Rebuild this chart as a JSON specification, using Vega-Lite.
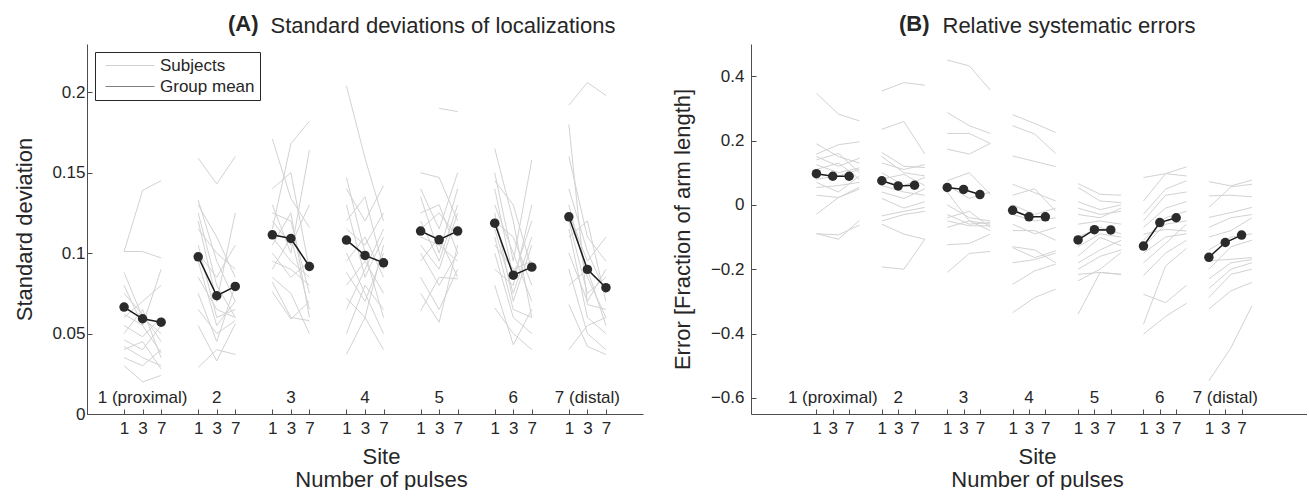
{
  "$schema": "https://vega.github.io/schema/vega-lite/v6.json",
  "padding": {"left": 13, "top": 13, "right": 0, "bottom": 0},
  "spacing": 28,
  "config": {
    "font": "Liberation Sans",
    "view": {"stroke": null},
    "axis": {
      "domainColor": "#4d4d4d", "tickColor": "#4d4d4d", "tickSize": -5, "grid": false,
      "labelFont": "Liberation Sans", "labelFontSize": 17, "labelColor": "#262626",
      "titleFont": "Liberation Sans", "titleFontSize": 22, "titleFontWeight": "normal", "titleColor": "#262626"
    }
  },
  "datasets": {
    "sites": [
      {"site": 1, "label": "1 (proximal)"}, {"site": 2, "label": "2"}, {"site": 3, "label": "3"},
      {"site": 4, "label": "4"}, {"site": 5, "label": "5"}, {"site": 6, "label": "6"}, {"site": 7, "label": "7 (distal)"}
    ],
    "sdMean": [
      {"site":1,"pulses":1,"v":0.0665},{"site":1,"pulses":3,"v":0.0592},{"site":1,"pulses":7,"v":0.0571},
      {"site":2,"pulses":1,"v":0.0977},{"site":2,"pulses":3,"v":0.0735},{"site":2,"pulses":7,"v":0.0793},
      {"site":3,"pulses":1,"v":0.1114},{"site":3,"pulses":3,"v":0.1091},{"site":3,"pulses":7,"v":0.0917},
      {"site":4,"pulses":1,"v":0.1081},{"site":4,"pulses":3,"v":0.0986},{"site":4,"pulses":7,"v":0.0940},
      {"site":5,"pulses":1,"v":0.1137},{"site":5,"pulses":3,"v":0.1083},{"site":5,"pulses":7,"v":0.1137},
      {"site":6,"pulses":1,"v":0.1186},{"site":6,"pulses":3,"v":0.0863},{"site":6,"pulses":7,"v":0.0913},
      {"site":7,"pulses":1,"v":0.1226},{"site":7,"pulses":3,"v":0.0899},{"site":7,"pulses":7,"v":0.0785}
    ],
    "errMean": [
      {"site":1,"pulses":1,"v":0.097},{"site":1,"pulses":3,"v":0.089},{"site":1,"pulses":7,"v":0.089},
      {"site":2,"pulses":1,"v":0.075},{"site":2,"pulses":3,"v":0.059},{"site":2,"pulses":7,"v":0.061},
      {"site":3,"pulses":1,"v":0.054},{"site":3,"pulses":3,"v":0.048},{"site":3,"pulses":7,"v":0.032},
      {"site":4,"pulses":1,"v":-0.017},{"site":4,"pulses":3,"v":-0.037},{"site":4,"pulses":7,"v":-0.037},
      {"site":5,"pulses":1,"v":-0.109},{"site":5,"pulses":3,"v":-0.077},{"site":5,"pulses":7,"v":-0.078},
      {"site":6,"pulses":1,"v":-0.128},{"site":6,"pulses":3,"v":-0.055},{"site":6,"pulses":7,"v":-0.040},
      {"site":7,"pulses":1,"v":-0.163},{"site":7,"pulses":3,"v":-0.117},{"site":7,"pulses":7,"v":-0.094}
    ],
    "sd": [
      {"site":1,"subj":1,"pulses":1,"v":0.101},{"site":1,"subj":1,"pulses":3,"v":0.139},{"site":1,"subj":1,"pulses":7,"v":0.145},
      {"site":1,"subj":2,"pulses":1,"v":0.101},{"site":1,"subj":2,"pulses":3,"v":0.101},{"site":1,"subj":2,"pulses":7,"v":0.097},
      {"site":1,"subj":3,"pulses":1,"v":0.088},{"site":1,"subj":3,"pulses":3,"v":0.060},{"site":1,"subj":3,"pulses":7,"v":0.050},
      {"site":1,"subj":4,"pulses":1,"v":0.080},{"site":1,"subj":4,"pulses":3,"v":0.055},{"site":1,"subj":4,"pulses":7,"v":0.090},
      {"site":1,"subj":5,"pulses":1,"v":0.075},{"site":1,"subj":5,"pulses":3,"v":0.062},{"site":1,"subj":5,"pulses":7,"v":0.045},
      {"site":1,"subj":6,"pulses":1,"v":0.060},{"site":1,"subj":6,"pulses":3,"v":0.070},{"site":1,"subj":6,"pulses":7,"v":0.080},
      {"site":1,"subj":7,"pulses":1,"v":0.055},{"site":1,"subj":7,"pulses":3,"v":0.048},{"site":1,"subj":7,"pulses":7,"v":0.060},
      {"site":1,"subj":8,"pulses":1,"v":0.050},{"site":1,"subj":8,"pulses":3,"v":0.065},{"site":1,"subj":8,"pulses":7,"v":0.035},
      {"site":1,"subj":9,"pulses":1,"v":0.046},{"site":1,"subj":9,"pulses":3,"v":0.040},{"site":1,"subj":9,"pulses":7,"v":0.055},
      {"site":1,"subj":10,"pulses":1,"v":0.042},{"site":1,"subj":10,"pulses":3,"v":0.035},{"site":1,"subj":10,"pulses":7,"v":0.030},
      {"site":1,"subj":11,"pulses":1,"v":0.040},{"site":1,"subj":11,"pulses":3,"v":0.045},{"site":1,"subj":11,"pulses":7,"v":0.028},
      {"site":1,"subj":12,"pulses":1,"v":0.035},{"site":1,"subj":12,"pulses":3,"v":0.030},{"site":1,"subj":12,"pulses":7,"v":0.040},
      {"site":1,"subj":13,"pulses":1,"v":0.030},{"site":1,"subj":13,"pulses":3,"v":0.020},{"site":1,"subj":13,"pulses":7,"v":0.024},
      {"site":1,"subj":14,"pulses":1,"v":0.062},{"site":1,"subj":14,"pulses":3,"v":0.055},{"site":1,"subj":14,"pulses":7,"v":0.038},
      {"site":2,"subj":1,"pulses":1,"v":0.159},{"site":2,"subj":1,"pulses":3,"v":0.143},{"site":2,"subj":1,"pulses":7,"v":0.160},
      {"site":2,"subj":2,"pulses":1,"v":0.133},{"site":2,"subj":2,"pulses":3,"v":0.095},{"site":2,"subj":2,"pulses":7,"v":0.070},
      {"site":2,"subj":3,"pulses":1,"v":0.130},{"site":2,"subj":3,"pulses":3,"v":0.110},{"site":2,"subj":3,"pulses":7,"v":0.085},
      {"site":2,"subj":4,"pulses":1,"v":0.125},{"site":2,"subj":4,"pulses":3,"v":0.080},{"site":2,"subj":4,"pulses":7,"v":0.060},
      {"site":2,"subj":5,"pulses":1,"v":0.120},{"site":2,"subj":5,"pulses":3,"v":0.070},{"site":2,"subj":5,"pulses":7,"v":0.125},
      {"site":2,"subj":6,"pulses":1,"v":0.115},{"site":2,"subj":6,"pulses":3,"v":0.100},{"site":2,"subj":6,"pulses":7,"v":0.090},
      {"site":2,"subj":7,"pulses":1,"v":0.105},{"site":2,"subj":7,"pulses":3,"v":0.060},{"site":2,"subj":7,"pulses":7,"v":0.065},
      {"site":2,"subj":8,"pulses":1,"v":0.100},{"site":2,"subj":8,"pulses":3,"v":0.085},{"site":2,"subj":8,"pulses":7,"v":0.105},
      {"site":2,"subj":9,"pulses":1,"v":0.095},{"site":2,"subj":9,"pulses":3,"v":0.055},{"site":2,"subj":9,"pulses":7,"v":0.070},
      {"site":2,"subj":10,"pulses":1,"v":0.085},{"site":2,"subj":10,"pulses":3,"v":0.065},{"site":2,"subj":10,"pulses":7,"v":0.060},
      {"site":2,"subj":11,"pulses":1,"v":0.075},{"site":2,"subj":11,"pulses":3,"v":0.045},{"site":2,"subj":11,"pulses":7,"v":0.080},
      {"site":2,"subj":12,"pulses":1,"v":0.065},{"site":2,"subj":12,"pulses":3,"v":0.050},{"site":2,"subj":12,"pulses":7,"v":0.058},
      {"site":2,"subj":13,"pulses":1,"v":0.055},{"site":2,"subj":13,"pulses":3,"v":0.033},{"site":2,"subj":13,"pulses":7,"v":0.056},
      {"site":2,"subj":14,"pulses":1,"v":0.029},{"site":2,"subj":14,"pulses":3,"v":0.040},{"site":2,"subj":14,"pulses":7,"v":0.037},
      {"site":3,"subj":1,"pulses":1,"v":0.115},{"site":3,"subj":1,"pulses":3,"v":0.168},{"site":3,"subj":1,"pulses":7,"v":0.182},
      {"site":3,"subj":2,"pulses":1,"v":0.171},{"site":3,"subj":2,"pulses":3,"v":0.134},{"site":3,"subj":2,"pulses":7,"v":0.116},
      {"site":3,"subj":3,"pulses":1,"v":0.140},{"site":3,"subj":3,"pulses":3,"v":0.150},{"site":3,"subj":3,"pulses":7,"v":0.090},
      {"site":3,"subj":4,"pulses":1,"v":0.130},{"site":3,"subj":4,"pulses":3,"v":0.100},{"site":3,"subj":4,"pulses":7,"v":0.164},
      {"site":3,"subj":5,"pulses":1,"v":0.125},{"site":3,"subj":5,"pulses":3,"v":0.120},{"site":3,"subj":5,"pulses":7,"v":0.075},
      {"site":3,"subj":6,"pulses":1,"v":0.120},{"site":3,"subj":6,"pulses":3,"v":0.105},{"site":3,"subj":6,"pulses":7,"v":0.130},
      {"site":3,"subj":7,"pulses":1,"v":0.110},{"site":3,"subj":7,"pulses":3,"v":0.095},{"site":3,"subj":7,"pulses":7,"v":0.085},
      {"site":3,"subj":8,"pulses":1,"v":0.105},{"site":3,"subj":8,"pulses":3,"v":0.125},{"site":3,"subj":8,"pulses":7,"v":0.060},
      {"site":3,"subj":9,"pulses":1,"v":0.100},{"site":3,"subj":9,"pulses":3,"v":0.085},{"site":3,"subj":9,"pulses":7,"v":0.095},
      {"site":3,"subj":10,"pulses":1,"v":0.095},{"site":3,"subj":10,"pulses":3,"v":0.090},{"site":3,"subj":10,"pulses":7,"v":0.080},
      {"site":3,"subj":11,"pulses":1,"v":0.090},{"site":3,"subj":11,"pulses":3,"v":0.110},{"site":3,"subj":11,"pulses":7,"v":0.065},
      {"site":3,"subj":12,"pulses":1,"v":0.085},{"site":3,"subj":12,"pulses":3,"v":0.075},{"site":3,"subj":12,"pulses":7,"v":0.050},
      {"site":3,"subj":13,"pulses":1,"v":0.082},{"site":3,"subj":13,"pulses":3,"v":0.060},{"site":3,"subj":13,"pulses":7,"v":0.058},
      {"site":3,"subj":14,"pulses":1,"v":0.076},{"site":3,"subj":14,"pulses":3,"v":0.059},{"site":3,"subj":14,"pulses":7,"v":0.070},
      {"site":4,"subj":1,"pulses":1,"v":0.204},{"site":4,"subj":1,"pulses":3,"v":0.159},{"site":4,"subj":1,"pulses":7,"v":0.120},
      {"site":4,"subj":2,"pulses":1,"v":0.147},{"site":4,"subj":2,"pulses":3,"v":0.100},{"site":4,"subj":2,"pulses":7,"v":0.060},
      {"site":4,"subj":3,"pulses":1,"v":0.140},{"site":4,"subj":3,"pulses":3,"v":0.120},{"site":4,"subj":3,"pulses":7,"v":0.142},
      {"site":4,"subj":4,"pulses":1,"v":0.130},{"site":4,"subj":4,"pulses":3,"v":0.085},{"site":4,"subj":4,"pulses":7,"v":0.110},
      {"site":4,"subj":5,"pulses":1,"v":0.120},{"site":4,"subj":5,"pulses":3,"v":0.135},{"site":4,"subj":5,"pulses":7,"v":0.090},
      {"site":4,"subj":6,"pulses":1,"v":0.115},{"site":4,"subj":6,"pulses":3,"v":0.105},{"site":4,"subj":6,"pulses":7,"v":0.125},
      {"site":4,"subj":7,"pulses":1,"v":0.100},{"site":4,"subj":7,"pulses":3,"v":0.075},{"site":4,"subj":7,"pulses":7,"v":0.050},
      {"site":4,"subj":8,"pulses":1,"v":0.095},{"site":4,"subj":8,"pulses":3,"v":0.110},{"site":4,"subj":8,"pulses":7,"v":0.085},
      {"site":4,"subj":9,"pulses":1,"v":0.088},{"site":4,"subj":9,"pulses":3,"v":0.070},{"site":4,"subj":9,"pulses":7,"v":0.100},
      {"site":4,"subj":10,"pulses":1,"v":0.080},{"site":4,"subj":10,"pulses":3,"v":0.095},{"site":4,"subj":10,"pulses":7,"v":0.075},
      {"site":4,"subj":11,"pulses":1,"v":0.072},{"site":4,"subj":11,"pulses":3,"v":0.060},{"site":4,"subj":11,"pulses":7,"v":0.040},
      {"site":4,"subj":12,"pulses":1,"v":0.065},{"site":4,"subj":12,"pulses":3,"v":0.090},{"site":4,"subj":12,"pulses":7,"v":0.115},
      {"site":4,"subj":13,"pulses":1,"v":0.050},{"site":4,"subj":13,"pulses":3,"v":0.080},{"site":4,"subj":13,"pulses":7,"v":0.065},
      {"site":4,"subj":14,"pulses":1,"v":0.037},{"site":4,"subj":14,"pulses":3,"v":0.060},{"site":4,"subj":14,"pulses":7,"v":0.105},
      {"site":5,"subj":1,"pulses":3,"v":0.190},{"site":5,"subj":1,"pulses":7,"v":0.188},
      {"site":5,"subj":2,"pulses":1,"v":0.150},{"site":5,"subj":2,"pulses":3,"v":0.147},{"site":5,"subj":2,"pulses":7,"v":0.120},
      {"site":5,"subj":3,"pulses":1,"v":0.140},{"site":5,"subj":3,"pulses":3,"v":0.115},{"site":5,"subj":3,"pulses":7,"v":0.150},
      {"site":5,"subj":4,"pulses":1,"v":0.135},{"site":5,"subj":4,"pulses":3,"v":0.100},{"site":5,"subj":4,"pulses":7,"v":0.140},
      {"site":5,"subj":5,"pulses":1,"v":0.125},{"site":5,"subj":5,"pulses":3,"v":0.130},{"site":5,"subj":5,"pulses":7,"v":0.100},
      {"site":5,"subj":6,"pulses":1,"v":0.120},{"site":5,"subj":6,"pulses":3,"v":0.095},{"site":5,"subj":6,"pulses":7,"v":0.130},
      {"site":5,"subj":7,"pulses":1,"v":0.115},{"site":5,"subj":7,"pulses":3,"v":0.125},{"site":5,"subj":7,"pulses":7,"v":0.110},
      {"site":5,"subj":8,"pulses":1,"v":0.110},{"site":5,"subj":8,"pulses":3,"v":0.105},{"site":5,"subj":8,"pulses":7,"v":0.095},
      {"site":5,"subj":9,"pulses":1,"v":0.105},{"site":5,"subj":9,"pulses":3,"v":0.090},{"site":5,"subj":9,"pulses":7,"v":0.125},
      {"site":5,"subj":10,"pulses":1,"v":0.100},{"site":5,"subj":10,"pulses":3,"v":0.080},{"site":5,"subj":10,"pulses":7,"v":0.100},
      {"site":5,"subj":11,"pulses":1,"v":0.095},{"site":5,"subj":11,"pulses":3,"v":0.110},{"site":5,"subj":11,"pulses":7,"v":0.085},
      {"site":5,"subj":12,"pulses":1,"v":0.085},{"site":5,"subj":12,"pulses":3,"v":0.065},{"site":5,"subj":12,"pulses":7,"v":0.090},
      {"site":5,"subj":13,"pulses":1,"v":0.075},{"site":5,"subj":13,"pulses":3,"v":0.057},{"site":5,"subj":13,"pulses":7,"v":0.105},
      {"site":5,"subj":14,"pulses":1,"v":0.064},{"site":5,"subj":14,"pulses":3,"v":0.085},{"site":5,"subj":14,"pulses":7,"v":0.084},
      {"site":6,"subj":1,"pulses":1,"v":0.165},{"site":6,"subj":1,"pulses":3,"v":0.120},{"site":6,"subj":1,"pulses":7,"v":0.060},
      {"site":6,"subj":2,"pulses":1,"v":0.150},{"site":6,"subj":2,"pulses":3,"v":0.095},{"site":6,"subj":2,"pulses":7,"v":0.158},
      {"site":6,"subj":3,"pulses":1,"v":0.145},{"site":6,"subj":3,"pulses":3,"v":0.130},{"site":6,"subj":3,"pulses":7,"v":0.090},
      {"site":6,"subj":4,"pulses":1,"v":0.140},{"site":6,"subj":4,"pulses":3,"v":0.085},{"site":6,"subj":4,"pulses":7,"v":0.120},
      {"site":6,"subj":5,"pulses":1,"v":0.130},{"site":6,"subj":5,"pulses":3,"v":0.100},{"site":6,"subj":5,"pulses":7,"v":0.070},
      {"site":6,"subj":6,"pulses":1,"v":0.125},{"site":6,"subj":6,"pulses":3,"v":0.070},{"site":6,"subj":6,"pulses":7,"v":0.105},
      {"site":6,"subj":7,"pulses":1,"v":0.120},{"site":6,"subj":7,"pulses":3,"v":0.110},{"site":6,"subj":7,"pulses":7,"v":0.080},
      {"site":6,"subj":8,"pulses":1,"v":0.115},{"site":6,"subj":8,"pulses":3,"v":0.075},{"site":6,"subj":8,"pulses":7,"v":0.110},
      {"site":6,"subj":9,"pulses":1,"v":0.110},{"site":6,"subj":9,"pulses":3,"v":0.065},{"site":6,"subj":9,"pulses":7,"v":0.060},
      {"site":6,"subj":10,"pulses":1,"v":0.105},{"site":6,"subj":10,"pulses":3,"v":0.090},{"site":6,"subj":10,"pulses":7,"v":0.095},
      {"site":6,"subj":11,"pulses":1,"v":0.100},{"site":6,"subj":11,"pulses":3,"v":0.060},{"site":6,"subj":11,"pulses":7,"v":0.050},
      {"site":6,"subj":12,"pulses":1,"v":0.090},{"site":6,"subj":12,"pulses":3,"v":0.080},{"site":6,"subj":12,"pulses":7,"v":0.130},
      {"site":6,"subj":13,"pulses":1,"v":0.080},{"site":6,"subj":13,"pulses":3,"v":0.043},{"site":6,"subj":13,"pulses":7,"v":0.065},
      {"site":6,"subj":14,"pulses":1,"v":0.066},{"site":6,"subj":14,"pulses":3,"v":0.050},{"site":6,"subj":14,"pulses":7,"v":0.040},
      {"site":7,"subj":1,"pulses":1,"v":0.192},{"site":7,"subj":1,"pulses":3,"v":0.206},{"site":7,"subj":1,"pulses":7,"v":0.198},
      {"site":7,"subj":2,"pulses":1,"v":0.180},{"site":7,"subj":2,"pulses":3,"v":0.068},{"site":7,"subj":2,"pulses":7,"v":0.065},
      {"site":7,"subj":3,"pulses":1,"v":0.160},{"site":7,"subj":3,"pulses":3,"v":0.110},{"site":7,"subj":3,"pulses":7,"v":0.095},
      {"site":7,"subj":4,"pulses":1,"v":0.140},{"site":7,"subj":4,"pulses":3,"v":0.101},{"site":7,"subj":4,"pulses":7,"v":0.075},
      {"site":7,"subj":5,"pulses":1,"v":0.130},{"site":7,"subj":5,"pulses":3,"v":0.085},{"site":7,"subj":5,"pulses":7,"v":0.060},
      {"site":7,"subj":6,"pulses":1,"v":0.125},{"site":7,"subj":6,"pulses":3,"v":0.095},{"site":7,"subj":6,"pulses":7,"v":0.110},
      {"site":7,"subj":7,"pulses":1,"v":0.120},{"site":7,"subj":7,"pulses":3,"v":0.075},{"site":7,"subj":7,"pulses":7,"v":0.085},
      {"site":7,"subj":8,"pulses":1,"v":0.115},{"site":7,"subj":8,"pulses":3,"v":0.060},{"site":7,"subj":8,"pulses":7,"v":0.050},
      {"site":7,"subj":9,"pulses":1,"v":0.110},{"site":7,"subj":9,"pulses":3,"v":0.120},{"site":7,"subj":9,"pulses":7,"v":0.070},
      {"site":7,"subj":10,"pulses":1,"v":0.100},{"site":7,"subj":10,"pulses":3,"v":0.070},{"site":7,"subj":10,"pulses":7,"v":0.090},
      {"site":7,"subj":11,"pulses":1,"v":0.090},{"site":7,"subj":11,"pulses":3,"v":0.050},{"site":7,"subj":11,"pulses":7,"v":0.040},
      {"site":7,"subj":12,"pulses":1,"v":0.080},{"site":7,"subj":12,"pulses":3,"v":0.090},{"site":7,"subj":12,"pulses":7,"v":0.055},
      {"site":7,"subj":13,"pulses":1,"v":0.068},{"site":7,"subj":13,"pulses":3,"v":0.042},{"site":7,"subj":13,"pulses":7,"v":0.037},
      {"site":7,"subj":14,"pulses":1,"v":0.040},{"site":7,"subj":14,"pulses":3,"v":0.055},{"site":7,"subj":14,"pulses":7,"v":0.060}
    ],
    "err": [
      {"site":1,"subj":1,"pulses":1,"v":0.347},{"site":1,"subj":1,"pulses":3,"v":0.282},{"site":1,"subj":1,"pulses":7,"v":0.261},
      {"site":1,"subj":2,"pulses":1,"v":0.158},{"site":1,"subj":2,"pulses":3,"v":0.187},{"site":1,"subj":2,"pulses":7,"v":0.196},
      {"site":1,"subj":3,"pulses":1,"v":0.190},{"site":1,"subj":3,"pulses":3,"v":0.150},{"site":1,"subj":3,"pulses":7,"v":0.130},
      {"site":1,"subj":4,"pulses":1,"v":0.150},{"site":1,"subj":4,"pulses":3,"v":0.120},{"site":1,"subj":4,"pulses":7,"v":0.145},
      {"site":1,"subj":5,"pulses":1,"v":0.140},{"site":1,"subj":5,"pulses":3,"v":0.160},{"site":1,"subj":5,"pulses":7,"v":0.100},
      {"site":1,"subj":6,"pulses":1,"v":0.125},{"site":1,"subj":6,"pulses":3,"v":0.100},{"site":1,"subj":6,"pulses":7,"v":0.115},
      {"site":1,"subj":7,"pulses":1,"v":0.110},{"site":1,"subj":7,"pulses":3,"v":0.130},{"site":1,"subj":7,"pulses":7,"v":0.080},
      {"site":1,"subj":8,"pulses":1,"v":0.080},{"site":1,"subj":8,"pulses":3,"v":0.090},{"site":1,"subj":8,"pulses":7,"v":0.110},
      {"site":1,"subj":9,"pulses":1,"v":0.070},{"site":1,"subj":9,"pulses":3,"v":0.040},{"site":1,"subj":9,"pulses":7,"v":0.090},
      {"site":1,"subj":10,"pulses":1,"v":0.054},{"site":1,"subj":10,"pulses":3,"v":0.060},{"site":1,"subj":10,"pulses":7,"v":0.070},
      {"site":1,"subj":11,"pulses":1,"v":0.030},{"site":1,"subj":11,"pulses":3,"v":0.023},{"site":1,"subj":11,"pulses":7,"v":0.055},
      {"site":1,"subj":12,"pulses":1,"v":-0.029},{"site":1,"subj":12,"pulses":3,"v":0.023},{"site":1,"subj":12,"pulses":7,"v":0.049},
      {"site":1,"subj":13,"pulses":1,"v":-0.089},{"site":1,"subj":13,"pulses":3,"v":-0.107},{"site":1,"subj":13,"pulses":7,"v":-0.048},
      {"site":1,"subj":14,"pulses":1,"v":-0.090},{"site":1,"subj":14,"pulses":3,"v":-0.093},{"site":1,"subj":14,"pulses":7,"v":-0.063},
      {"site":2,"subj":1,"pulses":1,"v":0.354},{"site":2,"subj":1,"pulses":3,"v":0.380},{"site":2,"subj":1,"pulses":7,"v":0.372},
      {"site":2,"subj":2,"pulses":1,"v":0.235},{"site":2,"subj":2,"pulses":3,"v":0.259},{"site":2,"subj":2,"pulses":7,"v":0.158},
      {"site":2,"subj":3,"pulses":1,"v":0.163},{"site":2,"subj":3,"pulses":3,"v":0.120},{"site":2,"subj":3,"pulses":7,"v":0.116},
      {"site":2,"subj":4,"pulses":1,"v":0.150},{"site":2,"subj":4,"pulses":3,"v":0.100},{"site":2,"subj":4,"pulses":7,"v":0.090},
      {"site":2,"subj":5,"pulses":1,"v":0.130},{"site":2,"subj":5,"pulses":3,"v":0.110},{"site":2,"subj":5,"pulses":7,"v":0.125},
      {"site":2,"subj":6,"pulses":1,"v":0.100},{"site":2,"subj":6,"pulses":3,"v":0.060},{"site":2,"subj":6,"pulses":7,"v":0.085},
      {"site":2,"subj":7,"pulses":1,"v":0.080},{"site":2,"subj":7,"pulses":3,"v":0.095},{"site":2,"subj":7,"pulses":7,"v":0.060},
      {"site":2,"subj":8,"pulses":1,"v":0.060},{"site":2,"subj":8,"pulses":3,"v":0.040},{"site":2,"subj":8,"pulses":7,"v":0.030},
      {"site":2,"subj":9,"pulses":1,"v":0.040},{"site":2,"subj":9,"pulses":3,"v":0.020},{"site":2,"subj":9,"pulses":7,"v":0.050},
      {"site":2,"subj":10,"pulses":1,"v":0.020},{"site":2,"subj":10,"pulses":3,"v":-0.010},{"site":2,"subj":10,"pulses":7,"v":0.010},
      {"site":2,"subj":11,"pulses":1,"v":-0.034},{"site":2,"subj":11,"pulses":3,"v":-0.020},{"site":2,"subj":11,"pulses":7,"v":-0.008},
      {"site":2,"subj":12,"pulses":1,"v":-0.050},{"site":2,"subj":12,"pulses":3,"v":-0.030},{"site":2,"subj":12,"pulses":7,"v":-0.020},
      {"site":2,"subj":13,"pulses":1,"v":-0.060},{"site":2,"subj":13,"pulses":3,"v":-0.091},{"site":2,"subj":13,"pulses":7,"v":-0.107},
      {"site":2,"subj":14,"pulses":1,"v":-0.193},{"site":2,"subj":14,"pulses":3,"v":-0.200},{"site":2,"subj":14,"pulses":7,"v":-0.107},
      {"site":3,"subj":1,"pulses":1,"v":0.450},{"site":3,"subj":1,"pulses":3,"v":0.432},{"site":3,"subj":1,"pulses":7,"v":0.357},
      {"site":3,"subj":2,"pulses":1,"v":0.287},{"site":3,"subj":2,"pulses":3,"v":0.246},{"site":3,"subj":2,"pulses":7,"v":0.222},
      {"site":3,"subj":3,"pulses":1,"v":0.222},{"site":3,"subj":3,"pulses":3,"v":0.222},{"site":3,"subj":3,"pulses":7,"v":0.191},
      {"site":3,"subj":4,"pulses":1,"v":0.173},{"site":3,"subj":4,"pulses":3,"v":0.158},{"site":3,"subj":4,"pulses":7,"v":0.191},
      {"site":3,"subj":5,"pulses":1,"v":0.075},{"site":3,"subj":5,"pulses":3,"v":0.100},{"site":3,"subj":5,"pulses":7,"v":0.033},
      {"site":3,"subj":6,"pulses":1,"v":0.060},{"site":3,"subj":6,"pulses":3,"v":0.020},{"site":3,"subj":6,"pulses":7,"v":0.040},
      {"site":3,"subj":7,"pulses":1,"v":0.040},{"site":3,"subj":7,"pulses":3,"v":-0.050},{"site":3,"subj":7,"pulses":7,"v":-0.060},
      {"site":3,"subj":8,"pulses":1,"v":0.000},{"site":3,"subj":8,"pulses":3,"v":-0.040},{"site":3,"subj":8,"pulses":7,"v":-0.050},
      {"site":3,"subj":9,"pulses":1,"v":-0.030},{"site":3,"subj":9,"pulses":3,"v":-0.060},{"site":3,"subj":9,"pulses":7,"v":-0.055},
      {"site":3,"subj":10,"pulses":1,"v":-0.040},{"site":3,"subj":10,"pulses":3,"v":-0.020},{"site":3,"subj":10,"pulses":7,"v":-0.070},
      {"site":3,"subj":11,"pulses":1,"v":-0.050},{"site":3,"subj":11,"pulses":3,"v":-0.065},{"site":3,"subj":11,"pulses":7,"v":-0.065},
      {"site":3,"subj":12,"pulses":1,"v":-0.070},{"site":3,"subj":12,"pulses":3,"v":-0.050},{"site":3,"subj":12,"pulses":7,"v":-0.080},
      {"site":3,"subj":13,"pulses":1,"v":-0.124},{"site":3,"subj":13,"pulses":3,"v":-0.120},{"site":3,"subj":13,"pulses":7,"v":-0.091},
      {"site":3,"subj":14,"pulses":1,"v":-0.210},{"site":3,"subj":14,"pulses":3,"v":-0.151},{"site":3,"subj":14,"pulses":7,"v":-0.145},
      {"site":4,"subj":1,"pulses":1,"v":0.280},{"site":4,"subj":1,"pulses":3,"v":0.253},{"site":4,"subj":1,"pulses":7,"v":0.225},
      {"site":4,"subj":2,"pulses":1,"v":0.246},{"site":4,"subj":2,"pulses":3,"v":0.220},{"site":4,"subj":2,"pulses":7,"v":0.160},
      {"site":4,"subj":3,"pulses":1,"v":0.152},{"site":4,"subj":3,"pulses":3,"v":0.135},{"site":4,"subj":3,"pulses":7,"v":0.119},
      {"site":4,"subj":4,"pulses":1,"v":0.064},{"site":4,"subj":4,"pulses":3,"v":0.038},{"site":4,"subj":4,"pulses":7,"v":0.012},
      {"site":4,"subj":5,"pulses":1,"v":0.030},{"site":4,"subj":5,"pulses":3,"v":0.050},{"site":4,"subj":5,"pulses":7,"v":-0.020},
      {"site":4,"subj":6,"pulses":1,"v":0.000},{"site":4,"subj":6,"pulses":3,"v":-0.030},{"site":4,"subj":6,"pulses":7,"v":-0.010},
      {"site":4,"subj":7,"pulses":1,"v":-0.030},{"site":4,"subj":7,"pulses":3,"v":-0.050},{"site":4,"subj":7,"pulses":7,"v":-0.040},
      {"site":4,"subj":8,"pulses":1,"v":-0.060},{"site":4,"subj":8,"pulses":3,"v":-0.090},{"site":4,"subj":8,"pulses":7,"v":-0.070},
      {"site":4,"subj":9,"pulses":1,"v":-0.080},{"site":4,"subj":9,"pulses":3,"v":-0.080},{"site":4,"subj":9,"pulses":7,"v":-0.110},
      {"site":4,"subj":10,"pulses":1,"v":-0.133},{"site":4,"subj":10,"pulses":3,"v":-0.164},{"site":4,"subj":10,"pulses":7,"v":-0.143},
      {"site":4,"subj":11,"pulses":1,"v":-0.130},{"site":4,"subj":11,"pulses":3,"v":-0.140},{"site":4,"subj":11,"pulses":7,"v":-0.180},
      {"site":4,"subj":12,"pulses":1,"v":-0.180},{"site":4,"subj":12,"pulses":3,"v":-0.170},{"site":4,"subj":12,"pulses":7,"v":-0.150},
      {"site":4,"subj":13,"pulses":1,"v":-0.247},{"site":4,"subj":13,"pulses":3,"v":-0.205},{"site":4,"subj":13,"pulses":7,"v":-0.184},
      {"site":4,"subj":14,"pulses":1,"v":-0.335},{"site":4,"subj":14,"pulses":3,"v":-0.288},{"site":4,"subj":14,"pulses":7,"v":-0.262},
      {"site":5,"subj":1,"pulses":1,"v":0.066},{"site":5,"subj":1,"pulses":3,"v":0.033},{"site":5,"subj":1,"pulses":7,"v":0.030},
      {"site":5,"subj":2,"pulses":1,"v":0.054},{"site":5,"subj":2,"pulses":3,"v":0.012},{"site":5,"subj":2,"pulses":7,"v":0.007},
      {"site":5,"subj":3,"pulses":1,"v":0.010},{"site":5,"subj":3,"pulses":3,"v":-0.015},{"site":5,"subj":3,"pulses":7,"v":0.000},
      {"site":5,"subj":4,"pulses":1,"v":-0.010},{"site":5,"subj":4,"pulses":3,"v":-0.030},{"site":5,"subj":4,"pulses":7,"v":-0.020},
      {"site":5,"subj":5,"pulses":1,"v":-0.030},{"site":5,"subj":5,"pulses":3,"v":-0.040},{"site":5,"subj":5,"pulses":7,"v":-0.010},
      {"site":5,"subj":6,"pulses":1,"v":-0.060},{"site":5,"subj":6,"pulses":3,"v":-0.050},{"site":5,"subj":6,"pulses":7,"v":-0.060},
      {"site":5,"subj":7,"pulses":1,"v":-0.100},{"site":5,"subj":7,"pulses":3,"v":-0.070},{"site":5,"subj":7,"pulses":7,"v":-0.090},
      {"site":5,"subj":8,"pulses":1,"v":-0.130},{"site":5,"subj":8,"pulses":3,"v":-0.090},{"site":5,"subj":8,"pulses":7,"v":-0.100},
      {"site":5,"subj":9,"pulses":1,"v":-0.159},{"site":5,"subj":9,"pulses":3,"v":-0.101},{"site":5,"subj":9,"pulses":7,"v":-0.127},
      {"site":5,"subj":10,"pulses":1,"v":-0.180},{"site":5,"subj":10,"pulses":3,"v":-0.140},{"site":5,"subj":10,"pulses":7,"v":-0.110},
      {"site":5,"subj":11,"pulses":1,"v":-0.200},{"site":5,"subj":11,"pulses":3,"v":-0.160},{"site":5,"subj":11,"pulses":7,"v":-0.140},
      {"site":5,"subj":12,"pulses":1,"v":-0.216},{"site":5,"subj":12,"pulses":3,"v":-0.210},{"site":5,"subj":12,"pulses":7,"v":-0.216},
      {"site":5,"subj":13,"pulses":1,"v":-0.236},{"site":5,"subj":13,"pulses":3,"v":-0.200},{"site":5,"subj":13,"pulses":7,"v":-0.148},
      {"site":5,"subj":14,"pulses":1,"v":-0.340},{"site":5,"subj":14,"pulses":3,"v":-0.210},{"site":5,"subj":14,"pulses":7,"v":-0.216},
      {"site":6,"subj":1,"pulses":1,"v":0.085},{"site":6,"subj":1,"pulses":3,"v":0.097},{"site":6,"subj":1,"pulses":7,"v":0.118},
      {"site":6,"subj":2,"pulses":1,"v":0.012},{"site":6,"subj":2,"pulses":3,"v":0.097},{"site":6,"subj":2,"pulses":7,"v":0.090},
      {"site":6,"subj":3,"pulses":1,"v":-0.029},{"site":6,"subj":3,"pulses":3,"v":0.049},{"site":6,"subj":3,"pulses":7,"v":0.075},
      {"site":6,"subj":4,"pulses":1,"v":-0.050},{"site":6,"subj":4,"pulses":3,"v":0.030},{"site":6,"subj":4,"pulses":7,"v":0.040},
      {"site":6,"subj":5,"pulses":1,"v":-0.070},{"site":6,"subj":5,"pulses":3,"v":-0.010},{"site":6,"subj":5,"pulses":7,"v":0.010},
      {"site":6,"subj":6,"pulses":1,"v":-0.091},{"site":6,"subj":6,"pulses":3,"v":-0.076},{"site":6,"subj":6,"pulses":7,"v":-0.081},
      {"site":6,"subj":7,"pulses":1,"v":-0.110},{"site":6,"subj":7,"pulses":3,"v":-0.040},{"site":6,"subj":7,"pulses":7,"v":-0.020},
      {"site":6,"subj":8,"pulses":1,"v":-0.130},{"site":6,"subj":8,"pulses":3,"v":-0.060},{"site":6,"subj":8,"pulses":7,"v":-0.050},
      {"site":6,"subj":9,"pulses":1,"v":-0.150},{"site":6,"subj":9,"pulses":3,"v":-0.100},{"site":6,"subj":9,"pulses":7,"v":-0.090},
      {"site":6,"subj":10,"pulses":1,"v":-0.180},{"site":6,"subj":10,"pulses":3,"v":-0.120},{"site":6,"subj":10,"pulses":7,"v":-0.060},
      {"site":6,"subj":11,"pulses":1,"v":-0.220},{"site":6,"subj":11,"pulses":3,"v":-0.150},{"site":6,"subj":11,"pulses":7,"v":-0.110},
      {"site":6,"subj":12,"pulses":1,"v":-0.278},{"site":6,"subj":12,"pulses":3,"v":-0.304},{"site":6,"subj":12,"pulses":7,"v":-0.250},
      {"site":6,"subj":13,"pulses":1,"v":-0.371},{"site":6,"subj":13,"pulses":3,"v":-0.190},{"site":6,"subj":13,"pulses":7,"v":-0.135},
      {"site":6,"subj":14,"pulses":1,"v":-0.402},{"site":6,"subj":14,"pulses":3,"v":-0.347},{"site":6,"subj":14,"pulses":7,"v":-0.306},
      {"site":7,"subj":1,"pulses":1,"v":0.072},{"site":7,"subj":1,"pulses":3,"v":0.059},{"site":7,"subj":1,"pulses":7,"v":0.077},
      {"site":7,"subj":2,"pulses":1,"v":0.028},{"site":7,"subj":2,"pulses":3,"v":0.030},{"site":7,"subj":2,"pulses":7,"v":0.025},
      {"site":7,"subj":3,"pulses":1,"v":-0.008},{"site":7,"subj":3,"pulses":3,"v":0.056},{"site":7,"subj":3,"pulses":7,"v":0.064},
      {"site":7,"subj":4,"pulses":1,"v":-0.039},{"site":7,"subj":4,"pulses":3,"v":-0.024},{"site":7,"subj":4,"pulses":7,"v":-0.008},
      {"site":7,"subj":5,"pulses":1,"v":-0.070},{"site":7,"subj":5,"pulses":3,"v":-0.040},{"site":7,"subj":5,"pulses":7,"v":-0.030},
      {"site":7,"subj":6,"pulses":1,"v":-0.100},{"site":7,"subj":6,"pulses":3,"v":-0.080},{"site":7,"subj":6,"pulses":7,"v":-0.040},
      {"site":7,"subj":7,"pulses":1,"v":-0.140},{"site":7,"subj":7,"pulses":3,"v":-0.100},{"site":7,"subj":7,"pulses":7,"v":-0.090},
      {"site":7,"subj":8,"pulses":1,"v":-0.174},{"site":7,"subj":8,"pulses":3,"v":-0.169},{"site":7,"subj":8,"pulses":7,"v":-0.164},
      {"site":7,"subj":9,"pulses":1,"v":-0.200},{"site":7,"subj":9,"pulses":3,"v":-0.130},{"site":7,"subj":9,"pulses":7,"v":-0.110},
      {"site":7,"subj":10,"pulses":1,"v":-0.230},{"site":7,"subj":10,"pulses":3,"v":-0.180},{"site":7,"subj":10,"pulses":7,"v":-0.170},
      {"site":7,"subj":11,"pulses":1,"v":-0.260},{"site":7,"subj":11,"pulses":3,"v":-0.200},{"site":7,"subj":11,"pulses":7,"v":-0.180},
      {"site":7,"subj":12,"pulses":1,"v":-0.288},{"site":7,"subj":12,"pulses":3,"v":-0.216},{"site":7,"subj":12,"pulses":7,"v":-0.200},
      {"site":7,"subj":13,"pulses":1,"v":-0.324},{"site":7,"subj":13,"pulses":3,"v":-0.267},{"site":7,"subj":13,"pulses":7,"v":-0.241},
      {"site":7,"subj":14,"pulses":1,"v":-0.547},{"site":7,"subj":14,"pulses":3,"v":-0.444},{"site":7,"subj":14,"pulses":7,"v":-0.314}
    ]
  },
  "hconcat": [
    {
      "width": 556, "height": 370,
      "resolve": {"axis": {"x": "independent"}},
      "title": {
        "text": "(A)", "anchor": "start", "frame": "group", "dx": 141, "dy": 22, "offset": 0,
        "font": "Liberation Sans", "fontSize": 22, "fontWeight": "bold", "color": "#262626"
      },
      "layer": [
        {
          "data": {"name": "sd"},
          "transform": [{"calculate": "4*(datum.site-1)+(datum.pulses==1?0:datum.pulses==3?1:2)", "as": "x"}],
          "mark": {"type": "line", "strokeWidth": 1},
          "encoding": {
            "x": {"field": "x", "type": "quantitative", "scale": {"domain": [-2, 28], "nice": false, "zero": false},
              "axis": {"orient": "bottom", "values": [0,1,2,4,5,6,8,9,10,12,13,14,16,17,18,20,21,22,24,25,26], "tickCount": 40,
                "labelExpr": "datum.value % 4 == 0 ? '1' : datum.value % 4 == 1 ? '3' : '7'",
                "labelOverlap": false, "labelFlush": false, "labelPadding": 11,
                "title": ["Site", "Number of pulses"], "titleLineHeight": 23, "titlePadding": 10,
                "titleX": 294, "titleAlign": "center"}},
            "y": {"field": "v", "type": "quantitative", "scale": {"domain": [0, 0.23], "nice": false},
              "axis": {"values": [0, 0.05, 0.1, 0.15, 0.2], "format": ".2~f", "labelPadding": 7,
                "title": "Standard deviation", "titlePadding": 15}},
            "detail": [{"field": "site"}, {"field": "subj"}],
            "color": {"datum": "Subjects", "type": "nominal",
              "scale": {"domain": ["Subjects", "Group mean"], "range": ["#d2d2d2", "#7f7f7f"]},
              "legend": {"orient": "top-left", "offset": 8, "title": null, "strokeColor": "#262626", "fillColor": "white",
                "padding": 5, "labelFont": "Liberation Sans", "labelFontSize": 17, "labelColor": "#262626",
                "symbolType": "M-0.6,0H9.2", "symbolSize": 100, "symbolStrokeWidth": 1, "labelOffset": 43, "rowPadding": 3}}
          }
        },
        {
          "data": {"name": "sdMean"},
          "transform": [{"calculate": "4*(datum.site-1)+(datum.pulses==1?0:datum.pulses==3?1:2)", "as": "x"}],
          "mark": {"type": "line", "color": "#1a1a1a", "strokeWidth": 1.5},
          "encoding": {"x": {"field": "x", "type": "quantitative", "axis": null}, "y": {"field": "v", "type": "quantitative"}, "detail": {"field": "site"}}
        },
        {
          "data": {"name": "sdMean"},
          "transform": [{"calculate": "4*(datum.site-1)+(datum.pulses==1?0:datum.pulses==3?1:2)", "as": "x"}],
          "mark": {"type": "circle", "size": 90, "color": "#2b2b2b", "opacity": 1},
          "encoding": {"x": {"field": "x", "type": "quantitative", "axis": null}, "y": {"field": "v", "type": "quantitative"}}
        },
        {
          "data": {"name": "sites"},
          "transform": [{"calculate": "4*(datum.site-1)+1", "as": "x"}],
          "mark": {"type": "text", "fontSize": 17, "font": "Liberation Sans", "color": "#262626", "baseline": "middle"},
          "encoding": {
            "x": {"field": "x", "type": "quantitative",
              "axis": {"orient": "top", "domain": false, "ticks": false, "labels": false, "grid": false,
                "title": "Standard deviations of localizations", "titleX": 183, "titleY": -12, "titleAlign": "left",
                "titleBaseline": "alphabetic", "titleFontSize": 22, "titleFontWeight": "normal", "titleColor": "#262626"}},
            "y": {"datum": 0.0099}, "text": {"field": "label"}}
        }
      ]
    },
    {
      "width": 556, "height": 370,
      "resolve": {"axis": {"x": "independent"}},
      "title": {
        "text": "(B)", "anchor": "start", "frame": "group", "dx": 148, "dy": 22, "offset": 0,
        "font": "Liberation Sans", "fontSize": 22, "fontWeight": "bold", "color": "#262626"
      },
      "layer": [
        {
          "mark": {"type": "rule", "color": "#8c8c8c", "strokeDash": [1.2, 5.1], "strokeWidth": 1.2},
          "encoding": {"y": {"datum": 0}}
        },
        {
          "data": {"name": "err"},
          "transform": [{"calculate": "4*(datum.site-1)+(datum.pulses==1?0:datum.pulses==3?1.35:2.63)", "as": "x"}],
          "mark": {"type": "line", "strokeWidth": 1, "color": "#d2d2d2"},
          "encoding": {
            "x": {"field": "x", "type": "quantitative", "scale": {"domain": [-4, 30], "nice": false, "zero": false},
              "axis": {"orient": "bottom", "values": [0,1,2,4,5,6,8,9,10,12,13,14,16,17,18,20,21,22,24,25,26], "tickCount": 40,
                "labelExpr": "datum.value % 4 == 0 ? '1' : datum.value % 4 == 1 ? '3' : '7'",
                "labelOverlap": false, "labelFlush": false, "labelPadding": 11,
                "title": ["Site", "Number of pulses"], "titleLineHeight": 23, "titlePadding": 10,
                "titleX": 286, "titleAlign": "center"}},
            "y": {"field": "v", "type": "quantitative", "scale": {"domain": [-0.65, 0.5], "nice": false, "zero": false},
              "axis": {"values": [-0.6, -0.4, -0.2, 0, 0.2, 0.4], "format": ".1~f", "labelPadding": 12,
                "title": "Error [Fraction of arm length]", "titlePadding": 16}},
            "detail": [{"field": "site"}, {"field": "subj"}]
          }
        },
        {
          "data": {"name": "errMean"},
          "transform": [{"calculate": "4*(datum.site-1)+(datum.pulses==1?0:datum.pulses==3?1:2)", "as": "x"}],
          "mark": {"type": "line", "color": "#1a1a1a", "strokeWidth": 1.5},
          "encoding": {"x": {"field": "x", "type": "quantitative", "axis": null}, "y": {"field": "v", "type": "quantitative"}, "detail": {"field": "site"}}
        },
        {
          "data": {"name": "errMean"},
          "transform": [{"calculate": "4*(datum.site-1)+(datum.pulses==1?0:datum.pulses==3?1:2)", "as": "x"}],
          "mark": {"type": "circle", "size": 90, "color": "#2b2b2b", "opacity": 1},
          "encoding": {"x": {"field": "x", "type": "quantitative", "axis": null}, "y": {"field": "v", "type": "quantitative"}}
        },
        {
          "data": {"name": "sites"},
          "transform": [{"calculate": "4*(datum.site-1)+1", "as": "x"}],
          "mark": {"type": "text", "fontSize": 17, "font": "Liberation Sans", "color": "#262626", "baseline": "middle"},
          "encoding": {
            "x": {"field": "x", "type": "quantitative",
              "axis": {"orient": "top", "domain": false, "ticks": false, "labels": false, "grid": false,
                "title": "Relative systematic errors", "titleX": 191, "titleY": -12, "titleAlign": "left",
                "titleBaseline": "alphabetic", "titleFontSize": 22, "titleFontWeight": "normal", "titleColor": "#262626"}},
            "y": {"datum": -0.6}, "text": {"field": "label"}}
        }
      ]
    }
  ]
}
